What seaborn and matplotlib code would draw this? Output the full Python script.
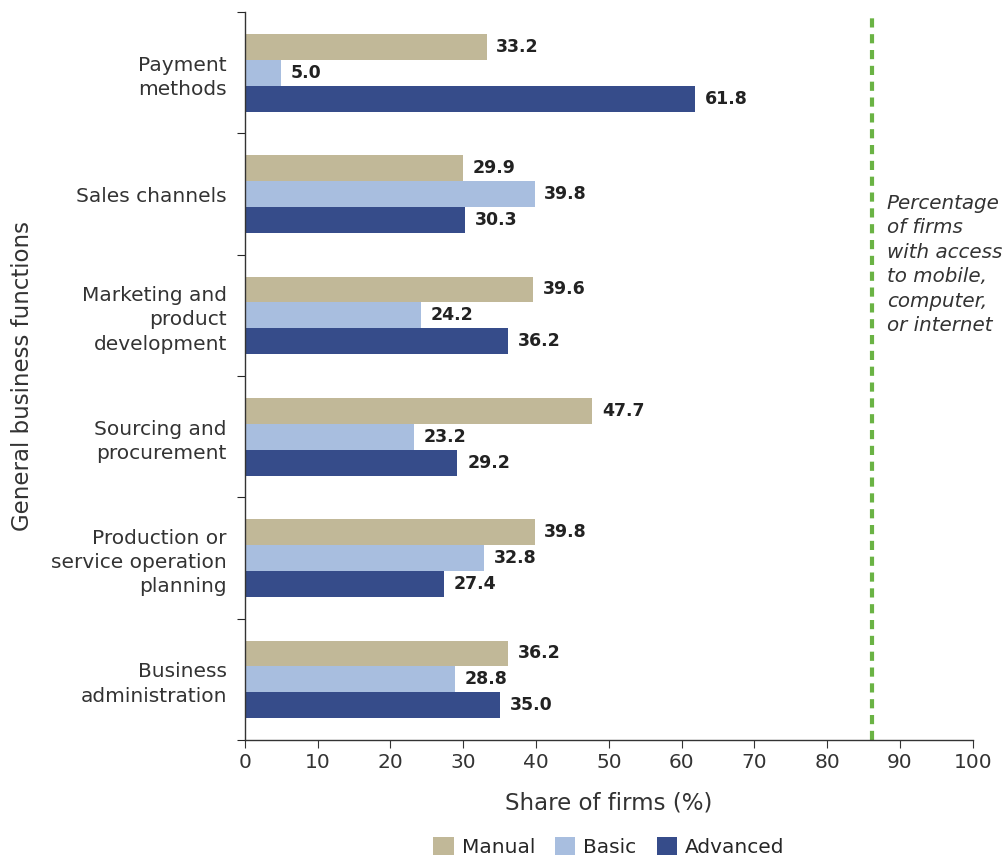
import pandas as pd
import matplotlib.pyplot as plt
import seaborn as sns
import numpy as np

# Data
functions = ["Payment\nmethods", "Sales channels", "Marketing and\nproduct\ndevelopment",
             "Sourcing and\nprocurement", "Production or\nservice operation\nplanning",
             "Business\nadministration"]
manual = [33.2, 29.9, 39.6, 47.7, 39.8, 36.2]
basic = [5.0, 39.8, 24.2, 23.2, 32.8, 28.8]
advanced = [61.8, 30.3, 36.2, 29.2, 27.4, 35.0]
access_share = 86.1

levels = ["Manual", "Basic", "Advanced"]
colors = ["#c1b898", "#a8bedf", "#364c8a"]

df = pd.DataFrame({"Function": functions, "Manual": manual, "Basic": basic, "Advanced": advanced})
long = df.melt(id_vars="Function", var_name="Level", value_name="Share")

sns.set_style("white")
plt.rcParams['font.family'] = ['DejaVu Sans']

fig = plt.figure(figsize=(10.08, 8.58), dpi=100)
ax = fig.add_axes([0.243, 0.1375, 0.722, 0.8485])

sns.barplot(data=long, y="Function", x="Share", hue="Level", hue_order=levels,
            palette=colors, orient="h", width=0.64, saturation=1, linewidth=0, ax=ax, legend=True)

# value labels
for cont in ax.containers:
    ax.bar_label(cont, fmt="%.1f", padding=7, fontsize=12.5, fontweight="bold", color="#222222")

# reference line
ax.axvline(access_share, color="#6ab344", linestyle=(0, (2.2, 1.6)), linewidth=3)
ax.text(access_share + 2.1, 1.58, "Percentage\nof firms\nwith access\nto mobile,\ncomputer,\nor internet",
        fontsize=14.3, style="italic", color="#333333", va="center", ha="left", linespacing=1.37)

ax.set_xlim(0, 100)
ax.set_ylim(len(functions) - 0.5, -0.5)
ax.set_xticks(np.arange(0, 101, 10))
ax.tick_params(axis="x", labelsize=14.5, length=6, direction="out", bottom=True, colors="#333333")

# category ticks at boundaries, labels at centres
ax.set_yticks(np.arange(len(functions) + 1) - 0.5)
ax.set_yticklabels([])
ax.set_yticks(np.arange(len(functions)), minor=True)
ax.set_yticklabels(functions, minor=True, fontsize=14.5, color="#333333", linespacing=1.35)
ax.tick_params(axis="y", which="major", length=6, direction="out", left=True)
ax.tick_params(axis="y", which="minor", length=0, pad=13)

for s in ["top", "right"]:
    ax.spines[s].set_visible(False)
for s in ["left", "bottom"]:
    ax.spines[s].set_color("#333333")
    ax.spines[s].set_linewidth(1)

ax.set_xlabel("Share of firms (%)", fontsize=16.5, color="#333333", labelpad=14)
ax.set_ylabel("General business functions", fontsize=16.5, color="#333333", labelpad=12)

ax.legend(loc="upper center", bbox_to_anchor=(0.5, -0.108), ncol=3, frameon=False,
          fontsize=14.5, handlelength=1, handleheight=1, handletextpad=0.4, columnspacing=1.0)

plt.savefig("out.png", dpi=100)
plt.close()
